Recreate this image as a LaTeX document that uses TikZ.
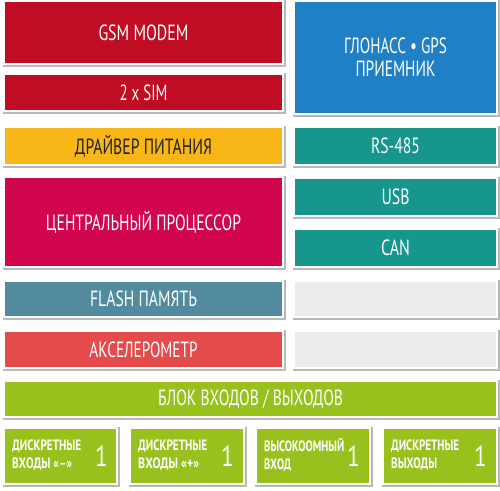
\documentclass[tikz,border=0pt]{standalone}
\usepackage{fontspec}
\usepackage{graphicx}
\setmainfont{PT Sans}
\newfontfamily\smallfont{PT Sans}[UprightFont=* Bold]
\newfontfamily\numfont{PT Sans}[FakeStretch=0.8]
\newcommand\fw[2]{\resizebox{#1}{\height}{#2}}
\definecolor{cRed}{HTML}{C00D23}
\definecolor{cYellow}{HTML}{F8B617}
\definecolor{cMagenta}{HTML}{D1064F}
\definecolor{cBlue}{HTML}{1F80C5}
\definecolor{cTeal}{HTML}{16968C}
\definecolor{cSteel}{HTML}{528B9D}
\definecolor{cCoral}{HTML}{E54B4A}
\definecolor{cGreen}{HTML}{98C11D}
\definecolor{cGrey}{HTML}{EBEBEB}
\definecolor{cDark}{HTML}{222222}
\tikzset{
  box/.style={fill=#1, draw=white, line width=2pt, inner sep=0pt, outer sep=0pt,
    anchor=north west, text=white, font=\fontsize{22}{22}\selectfont, align=center,
    preaction={draw=black!28, line width=3.6pt, transform canvas={xshift=0.7pt,yshift=-0.7pt}}},
  lbl/.style={text=white, inner sep=0pt, anchor=west, align=left,
    font=\smallfont\fontsize{15}{18}\selectfont},
  num/.style={text=white, inner sep=0pt, anchor=east, font=\numfont\fontsize{29}{29}\selectfont},
}
\begin{document}
\begin{tikzpicture}[x=1pt,y=-1pt]
\useasboundingbox[fill=white] (0,0) rectangle (500,490);
% left column
\node[box=cRed, minimum width=279pt, minimum height=63pt] (gsm) at (4,1) {\fw{90pt}{GSM MODEM}};
\node[box=cRed, minimum width=279pt, minimum height=37pt] (sim) at (4,74) {\fw{48pt}{2 x SIM}};
\node[box=cYellow, minimum width=279pt, minimum height=38pt, text=cDark] (drv) at (4,127) {\fw{137pt}{ДРАЙВЕР ПИТАНИЯ}};
\node[box=cMagenta, minimum width=279pt, minimum height=90pt] (cpu) at (4,177) {\fw{195pt}{ЦЕНТРАЛЬНЫЙ ПРОЦЕССОР}};
\node[box=cSteel, minimum width=279pt, minimum height=36pt] (flash) at (4,281) {\fw{107pt}{FLASH ПАМЯТЬ}};
\node[box=cCoral, minimum width=279pt, minimum height=37pt] (acc) at (4,331) {\fw{108pt}{АКСЕЛЕРОМЕТР}};
% right column
\node[box=cBlue, minimum width=203pt, minimum height=113pt, font=\fontsize{22}{23}\selectfont] (gps) at (294,1) {\fw{103pt}{ГЛОНАСС • GPS}\\\fw{80pt}{ПРИЕМНИК}};
\node[box=cTeal, minimum width=203pt, minimum height=38pt] (rs) at (294,127) {\fw{49pt}{RS-485}};
\node[box=cTeal, minimum width=203pt, minimum height=38pt] (usb) at (294,178) {\fw{28pt}{USB}};
\node[box=cTeal, minimum width=203pt, minimum height=38pt] (can) at (294,229) {\fw{29pt}{CAN}};
\node[box=cGrey, minimum width=203pt, minimum height=36pt] (e1) at (294,281) {};
\node[box=cGrey, minimum width=203pt, minimum height=37pt] (e2) at (294,331) {};
% io block
\node[box=cGreen, minimum width=493pt, minimum height=36pt] (io) at (4,381) {\fw{185pt}{БЛОК ВХОДОВ / ВЫХОДОВ}};
% bottom boxes
\node[box=cGreen, minimum width=113pt, minimum height=56pt] (b1) at (4,428) {};
\node[box=cGreen, minimum width=114pt, minimum height=56pt] (b2) at (130,428) {};
\node[box=cGreen, minimum width=114pt, minimum height=56pt] (b3) at (256,428) {};
\node[box=cGreen, minimum width=114pt, minimum height=56pt] (b4) at (383,428) {};
\node[lbl] (t1) at ([xshift=8pt,yshift=1pt]b1.west) {\fw{69pt}{ДИСКРЕТНЫЕ}\\\fw{60pt}{ВХОДЫ «–»}};
\node[lbl] (t2) at ([xshift=8pt,yshift=1pt]b2.west) {\fw{69pt}{ДИСКРЕТНЫЕ}\\\fw{61pt}{ВХОДЫ «+»}};
\node[lbl] (t3) at ([xshift=8pt,yshift=1pt]b3.west) {\fw{80pt}{ВЫСОКООМНЫЙ}\\\fw{27pt}{ВХОД}};
\node[lbl] (t4) at ([xshift=8pt,yshift=1pt]b4.west) {\fw{68pt}{ДИСКРЕТНЫЕ}\\\fw{46pt}{ВЫХОДЫ}};
\node[num] (n1) at ([xshift=-9pt]b1.east) {1};
\node[num] (n2) at ([xshift=-10pt]b2.east) {1};
\node[num] (n3) at ([xshift=-10pt]b3.east) {1};
\node[num] (n4) at ([xshift=-10pt]b4.east) {1};
\end{tikzpicture}
\end{document}
